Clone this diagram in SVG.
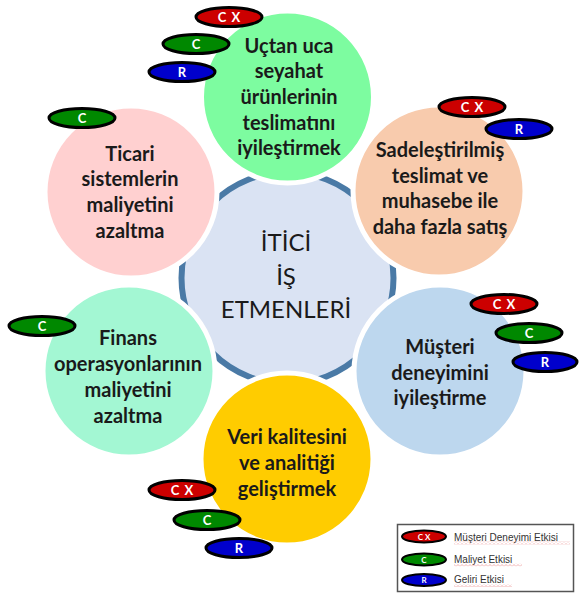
<svg xmlns="http://www.w3.org/2000/svg" width="579" height="597" viewBox="0 0 579 597">
  <style>
    .bubble { stroke: #ffffff; stroke-width: 5; }
    .label { font-family: Lato, "Open Sans", "DejaVu Sans", sans-serif; font-weight: 700; font-size: 20px; fill: #1a1a1a; text-anchor: middle; }
    .core { font-family: Lato, "Open Sans", "DejaVu Sans", sans-serif; font-weight: 400; font-size: 24px; fill: #1a1a1a; text-anchor: middle; }
    .pill { stroke: #000000; stroke-width: 3; }
    .pill-sm { stroke: #000000; stroke-width: 2; }
    .tag { font-family: Lato, "Open Sans", "DejaVu Sans", sans-serif; font-weight: 700; font-size: 13px; fill: #ffffff; text-anchor: middle; letter-spacing: 1px; }
    .tag-sm { font-family: Lato, "Open Sans", "DejaVu Sans", sans-serif; font-weight: 700; font-size: 8px; fill: #ffffff; text-anchor: middle; }
    .cx { fill: #cc0000; }
    .c { fill: #008800; }
    .r { fill: #0000cc; }
    .key { font-family: "Liberation Sans", Arial, sans-serif; font-size: 10px; fill: #333333; }
  </style>
  <defs>
    <pattern id="squiggle" width="4" height="3" patternUnits="userSpaceOnUse">
      <path d="M0,2.5 L2,0.5 L4,2.5" fill="none" stroke="#e57373" stroke-width="0.8"/>
    </pattern>
  </defs>

  <rect width="579" height="597" fill="#ffffff"/>

  <!-- central hub -->
  <g id="hub">
    <circle cx="287.5" cy="278" r="106" fill="#dae3f3" stroke="#4a7aa6" stroke-width="6"/>
  </g>

  <!-- surrounding driver bubbles -->
  <g id="node-delivery">
    <circle class="bubble" cx="287.5" cy="97" r="86" fill="#7dfca0"/>
    <text class="label" x="289" y="53">Uçtan uca</text>
    <text class="label" x="289" y="78">seyahat</text>
    <text class="label" x="289" y="104">ürünlerinin</text>
    <text class="label" x="289" y="130">teslimatını</text>
    <text class="label" x="289" y="155">iyileştirmek</text>
  </g>

  <g id="node-sales">
    <circle class="bubble" cx="439" cy="191" r="86" fill="#f8cbad"/>
    <text class="label" x="440" y="157">Sadeleştirilmiş</text>
    <text class="label" x="440" y="183">teslimat ve</text>
    <text class="label" x="440" y="208">muhasebe ile</text>
    <text class="label" x="440" y="234">daha fazla satış</text>
  </g>

  <g id="node-experience">
    <circle class="bubble" cx="440" cy="371" r="86" fill="#bdd7ee"/>
    <text class="label" x="440" y="354">Müşteri</text>
    <text class="label" x="440" y="380">deneyimini</text>
    <text class="label" x="440" y="405">iyileştirme</text>
  </g>

  <g id="node-data">
    <circle class="bubble" cx="287" cy="459" r="86" fill="#ffcc00"/>
    <text class="label" x="287" y="444">Veri kalitesini</text>
    <text class="label" x="287" y="470">ve analitiği</text>
    <text class="label" x="287" y="496">geliştirmek</text>
  </g>

  <g id="node-finance">
    <circle class="bubble" cx="129" cy="371" r="86" fill="#a3f7d3"/>
    <text class="label" x="128" y="345">Finans</text>
    <text class="label" x="128" y="371">operasyonlarının</text>
    <text class="label" x="128" y="397">maliyetini</text>
    <text class="label" x="128" y="423">azaltma</text>
  </g>

  <g id="node-commerce">
    <circle class="bubble" cx="131" cy="192" r="86" fill="#ffd0d0"/>
    <text class="label" x="130" y="161">Ticari</text>
    <text class="label" x="130" y="186">sistemlerin</text>
    <text class="label" x="130" y="212">maliyetini</text>
    <text class="label" x="130" y="238">azaltma</text>
  </g>

  <!-- hub title -->
  <g id="hub-title">
    <text class="core" x="286" y="251">İTİCİ</text>
    <text class="core" x="286" y="285">İŞ</text>
    <text class="core" x="286" y="318">ETMENLERİ</text>
  </g>

  <!-- impact tags -->
  <g id="tags">
    <g><ellipse class="pill cx" cx="229" cy="17" rx="33" ry="9.5"/><text class="tag" x="229.5" y="22">C X</text></g>
    <g><ellipse class="pill c" cx="196" cy="44" rx="33" ry="9.5"/><text class="tag" x="196.5" y="49">C</text></g>
    <g><ellipse class="pill r" cx="182" cy="72" rx="33" ry="9.5"/><text class="tag" x="182.5" y="77">R</text></g>

    <g><ellipse class="pill cx" cx="472" cy="107" rx="33" ry="9.5"/><text class="tag" x="472.5" y="112">C X</text></g>
    <g><ellipse class="pill r" cx="519" cy="129" rx="33" ry="9.5"/><text class="tag" x="519.5" y="134">R</text></g>

    <g><ellipse class="pill cx" cx="504" cy="304" rx="33" ry="9.5"/><text class="tag" x="504.5" y="309">C X</text></g>
    <g><ellipse class="pill c" cx="529" cy="333" rx="33" ry="9.5"/><text class="tag" x="529.5" y="338">C</text></g>
    <g><ellipse class="pill r" cx="545" cy="362" rx="32" ry="9.5"/><text class="tag" x="545.5" y="367">R</text></g>

    <g><ellipse class="pill cx" cx="182" cy="490" rx="33" ry="9.5"/><text class="tag" x="182.5" y="495">C X</text></g>
    <g><ellipse class="pill c" cx="207" cy="520" rx="33" ry="9.5"/><text class="tag" x="207.5" y="525">C</text></g>
    <g><ellipse class="pill r" cx="239" cy="548" rx="33" ry="9.5"/><text class="tag" x="239.5" y="553">R</text></g>

    <g><ellipse class="pill c" cx="42" cy="326" rx="33" ry="9.5"/><text class="tag" x="42.5" y="331">C</text></g>

    <g><ellipse class="pill c" cx="82" cy="118" rx="33" ry="9.5"/><text class="tag" x="82.5" y="123">C</text></g>
  </g>

  <!-- legend -->
  <g id="legend">
    <rect x="397.5" y="524.5" width="176" height="67" fill="#ffffff" stroke="#555555" stroke-width="1.5"/>
    <ellipse class="pill-sm cx" cx="424" cy="536.5" rx="22" ry="6"/>
    <text class="tag-sm" x="424" y="539.5">C X</text>
    <ellipse class="pill-sm c" cx="424" cy="559.5" rx="22" ry="6"/>
    <text class="tag-sm" x="424" y="562.5">C</text>
    <ellipse class="pill-sm r" cx="424" cy="580" rx="22" ry="6"/>
    <text class="tag-sm" x="424" y="583">R</text>
    <text class="key" x="454" y="540.5">Müşteri Deneyimi Etkisi</text>
    <text class="key" x="454" y="562.5">Maliyet Etkisi</text>
    <text class="key" x="454" y="583">Geliri Etkisi</text>
    <rect x="454" y="541.5" width="116" height="3" fill="url(#squiggle)" opacity="0.7"/>
    <rect x="454" y="563.5" width="68" height="3" fill="url(#squiggle)" opacity="0.7"/>
    <rect x="454" y="584" width="58" height="3" fill="url(#squiggle)" opacity="0.7"/>
  </g>
</svg>
